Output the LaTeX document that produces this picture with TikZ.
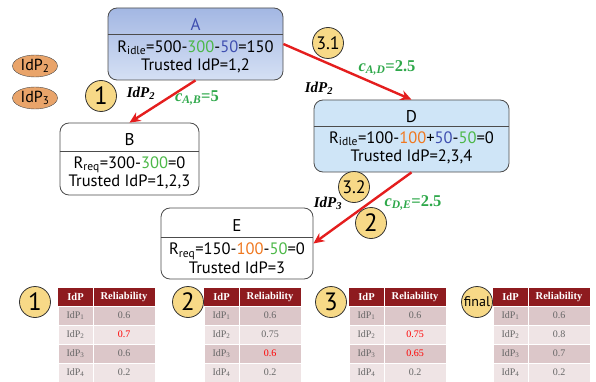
\documentclass[tikz,border=0pt]{standalone}
\usepackage{fontspec}
\setmainfont{PT Sans}
\newfontfamily\tabfont{Liberation Serif}
\usetikzlibrary{arrows.meta,positioning,shapes.geometric}

\definecolor{hdrred}{HTML}{8E1B1F}
\definecolor{rowdark}{HTML}{DCC7C9}
\definecolor{rowlight}{HTML}{EFE4E5}
\definecolor{badgefill}{HTML}{F7D987}
\definecolor{idpfill}{HTML}{E9A46A}
\definecolor{costgreen}{HTML}{2EA84A}
\definecolor{valgreen}{HTML}{4CB848}
\definecolor{valblue}{HTML}{3F4FB0}
\definecolor{valorange}{HTML}{F07820}
\definecolor{arrowred}{HTML}{E41E1E}
\definecolor{dfill}{HTML}{CFE5F7}
\definecolor{atop}{HTML}{A3B7E3}
\definecolor{abottom}{HTML}{D5E0F4}

\begin{document}
\begin{tikzpicture}[
  x=1pt, y=-1pt,
  box/.style = {draw=black!70, rounded corners=9pt, line width=0.8pt},
  title/.style = {font=\fontsize{17}{17}\selectfont},
  body/.style = {align=center, font=\fontsize{16.5}{18.5}\selectfont},
  badge/.style = {circle, draw=black!80, fill=badgefill, minimum size=31pt, inner sep=0pt, line width=0.8pt, font=\fontsize{25}{25}\selectfont},
  idp/.style = {ellipse, draw=black!70, fill=idpfill, minimum width=45pt, minimum height=22pt, inner sep=0pt, font=\fontsize{16}{16}\selectfont},
  via/.style = {font=\tabfont\bfseries\itshape\fontsize{15}{15}\selectfont},
  cost/.style = {text=costgreen, font=\tabfont\bfseries\fontsize{16.5}{16.5}\selectfont},
  link/.style = {draw=arrowred, line width=2.4pt, -{Stealth[length=11pt,width=10pt]}},
  cell/.style = {draw=white, line width=1pt},
  cellText/.style = {text=black!60, font=\tabfont\fontsize{10}{10}\selectfont}
]
\useasboundingbox (0,0) rectangle (596,382);

% service nodes
\node[box, top color=atop, bottom color=abottom,
      minimum width=175pt, minimum height=72pt] (A) at (195.5,44) {};
\draw[black!70, line width=0.8pt] (A.west |- 0,34) -- (A.east |- 0,34);
\node[title, text=valblue] (Atitle) at (195.5,24) {A};
\node[body] (Abody) at (195.5,57) {R\textsubscript{idle}=500-{\color{valgreen}300}-{\color{valblue}50}=150\\Trusted IdP=1,2};

\node[box, fill=white, minimum width=139pt, minimum height=72pt] (B) at (129.5,159) {};
\draw[black!70, line width=0.8pt] (B.west |- 0,151) -- (B.east |- 0,151);
\node[title] (Btitle) at (129.5,140) {B};
\node[body] (Bbody) at (129.5,173) {R\textsubscript{req}=300-{\color{valgreen}300}=0\\Trusted IdP=1,2,3};

\node[box, fill=dfill, minimum width=195pt, minimum height=72pt] (D) at (411.5,136) {};
\draw[black!70, line width=0.8pt] (D.west |- 0,126) -- (D.east |- 0,126);
\node[title] (Dtitle) at (411.5,116.5) {D};
\node[body] (Dbody) at (411.5,148) {R\textsubscript{idle}=100-{\color{valorange}100}+{\color{valblue}50}-{\color{valgreen}50}=0\\Trusted IdP=2,3,4};

\node[box, fill=white, minimum width=152pt, minimum height=71pt] (E) at (237,243.5) {};
\draw[black!70, line width=0.8pt] (E.west |- 0,237) -- (E.east |- 0,237);
\node[title] (Etitle) at (237,225.5) {E};
\node[body] (Ebody) at (237,258) {R\textsubscript{req}=150-{\color{valorange}100}-{\color{valgreen}50}=0\\Trusted IdP=3};

% identity providers
\node[idp] (idp2) at (35,66) {IdP\textsubscript{2}};
\node[idp] (idp3) at (35,98) {IdP\textsubscript{3}};

% delegation arrows
\draw[link] (A.south) -- (B.north);
\draw[link] (A.east) -- (D.north);
\draw[link] (D.south) -- (E.east);

% step badges and labels
\node[badge] (s1) at (101,96) {1};
\node[via] (lab1) at (141,93) {IdP\textsubscript{2}};
\node[cost] (cab) at (197,98) {\textit{c}\textsubscript{\textit{A,B}}=5};

\node[badge, font=\fontsize{18}{18}\selectfont] (s31) at (328,43) {3.1};
\node[cost] (cad) at (387,68) {\textit{c}\textsubscript{\textit{A,D}}=2.5};
\node[via] (lab2) at (319,88) {IdP\textsubscript{2}};

\node[badge, font=\fontsize{18}{18}\selectfont] (s32) at (354,187) {3.2};
\node[via] (lab3) at (328,203) {IdP\textsubscript{3}};
\node[cost] (cde) at (413,203) {\textit{c}\textsubscript{\textit{D,E}}=2.5};
\node[badge] (s2) at (371,223) {2};

% reliability tables
\foreach \tx/\bx/\lab/\va/\vb/\vc/\vd in {
    58/35/1/0.6/{\color{red}0.7}/0.6/0.2,
    204/188/2/0.6/0.75/{\color{red}0.6}/0.2,
    349/331/3/0.6/{\color{red}0.75}/{\color{red}0.65}/0.2,
    493/477/{\fontsize{14}{14}\selectfont final}/0.6/0.8/0.7/0.2} {
  \node[badge] (tb\tx) at (\bx,302) {\lab};
  \fill[hdrred] (\tx,288) rectangle +(97,18);
  \draw[white, line width=1pt] (\tx+35,288) -- +(0,18);
  \node[text=white, font=\tabfont\bfseries\fontsize{10.5}{10.5}\selectfont] at (\tx+17.5,297) {IdP};
  \node[text=white, font=\tabfont\bfseries\fontsize{10.5}{10.5}\selectfont] at (\tx+66,297) {Reliability};
  \foreach \r/\v in {1/\va,2/\vb,3/\vc,4/\vd} {
    \pgfmathsetmacro{\ry}{306+(\r-1)*19}
    \ifodd\r \def\rc{rowdark}\else\def\rc{rowlight}\fi
    \draw[cell, fill=\rc] (\tx,\ry) rectangle +(35,19);
    \draw[cell, fill=\rc] (\tx+35,\ry) rectangle +(62,19);
    \node[cellText] at (\tx+17.5,\ry+9.5) {IdP\textsubscript{\r}};
    \node[cellText] at (\tx+66,\ry+9.5) {\v};
  }
}
\end{tikzpicture}
\end{document}
